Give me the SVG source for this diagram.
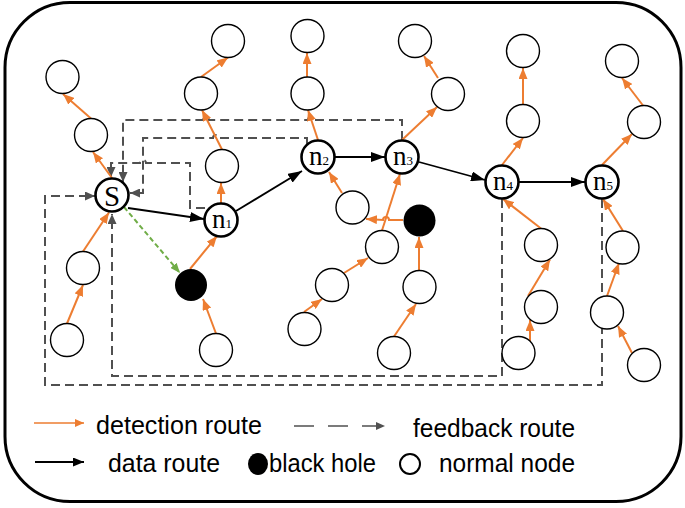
<svg xmlns="http://www.w3.org/2000/svg" width="685" height="508" viewBox="0 0 685 508">
<style>
.nd{fill:#fff;stroke:#000;stroke-width:1.4}
.nt{fill:#fff;stroke:#000;stroke-width:2.6}
.bh{fill:#000;stroke:none}
.or{stroke:#ED7D31;stroke-width:2;fill:none;marker-end:url(#ao)}
.da{stroke:#000;stroke-width:1.8;fill:none;marker-end:url(#ab)}
.fb{stroke:#505050;stroke-width:2;fill:none;stroke-dasharray:9 5;marker-end:url(#ag)}
.gr{stroke:#70AD47;stroke-width:2;fill:none;stroke-dasharray:5 3;marker-end:url(#agr)}
.lb{font-family:"Liberation Serif","Times New Roman",serif;fill:#000;text-anchor:middle}
.lg{font-family:"Liberation Sans",Arial,sans-serif;font-size:26px;fill:#000}
</style>
<defs>
<marker id="ao" markerUnits="userSpaceOnUse" markerWidth="11" markerHeight="9" refX="11" refY="4.5" orient="auto"><path d="M0,0 L11,4.5 L0,9 z" fill="#ED7D31"/></marker>
<marker id="ab" markerUnits="userSpaceOnUse" markerWidth="14" markerHeight="10" refX="14" refY="5" orient="auto"><path d="M0,0 L14,5 L0,10 z" fill="#000"/></marker>
<marker id="ag" markerUnits="userSpaceOnUse" markerWidth="10" markerHeight="9" refX="10" refY="4.5" orient="auto"><path d="M0,0 L10,4.5 L0,9 z" fill="#505050"/></marker>
<marker id="agr" markerUnits="userSpaceOnUse" markerWidth="10" markerHeight="8" refX="10" refY="4" orient="auto"><path d="M0,0 L10,4 L0,8 z" fill="#70AD47"/></marker>
<marker id="lo" markerUnits="userSpaceOnUse" markerWidth="9" markerHeight="8" refX="9" refY="4" orient="auto"><path d="M0,0 L9,4 L0,8 z" fill="#ED7D31"/></marker>
<marker id="lgm" markerUnits="userSpaceOnUse" markerWidth="9" markerHeight="8" refX="9" refY="4" orient="auto"><path d="M0,0 L9,4 L0,8 z" fill="#505050"/></marker>
<marker id="lb" markerUnits="userSpaceOnUse" markerWidth="11" markerHeight="9" refX="11" refY="4.5" orient="auto"><path d="M0,0 L11,4.5 L0,9 z" fill="#000"/></marker>
</defs>
<rect x="5" y="2.5" width="676" height="499" rx="65" ry="65" fill="#fff" stroke="#000" stroke-width="3"/>

<g id="connectors">
<path class="fb" d="M205,208 H190 V163 H146 a3,3 0 0 0 -6,0 H111 V177"/>
<path class="fb" d="M307,144 V138 H219 a3,3 0 0 0 -6,0 H143 V193 H130"/>
<path class="fb" d="M402,140 V120 H314 a3,3 0 0 0 -6,0 H209 a3,3 0 0 0 -6,0 H123 V182"/>
<path class="fb" d="M602,199 V385 H45 V196 H95"/>
<path class="fb" d="M502,199 V376 H112 V214"/>
<line class="or" x1="112" y1="178" x2="93" y2="152"/>
<line class="or" x1="91" y1="118.5" x2="63" y2="94"/>
<line class="or" x1="83" y1="251.5" x2="109" y2="212.5"/>
<line class="or" x1="67" y1="323.5" x2="83" y2="285"/>
<line class="or" x1="190" y1="269" x2="217" y2="236"/>
<line class="or" x1="216" y1="333.5" x2="203" y2="299"/>
<line class="or" x1="221" y1="203" x2="221" y2="183"/>
<line class="or" x1="222" y1="149.5" x2="202" y2="110"/>
<line class="or" x1="201" y1="77" x2="228" y2="57.5"/>
<line class="or" x1="318" y1="140" x2="308" y2="110"/>
<line class="or" x1="307" y1="77" x2="307" y2="53"/>
<line class="or" x1="342" y1="193" x2="329" y2="172"/>
<line class="or" x1="402" y1="140" x2="437" y2="107"/>
<line class="or" x1="438" y1="78" x2="424" y2="56"/>
<line class="or" x1="382" y1="230.5" x2="400" y2="174"/>
<path class="or" d="M403,220 H389 a3,3 0 0 0 -6,0 L366,219"/>
<line class="or" x1="344" y1="273" x2="368" y2="258"/>
<line class="or" x1="304" y1="312" x2="322" y2="299"/>
<line class="or" x1="419" y1="270" x2="419" y2="237"/>
<line class="or" x1="394" y1="336.5" x2="416" y2="304"/>
<line class="or" x1="502" y1="165" x2="523" y2="138"/>
<line class="or" x1="523" y1="104.5" x2="523" y2="68"/>
<line class="or" x1="602" y1="165" x2="632" y2="134"/>
<line class="or" x1="643" y1="105.5" x2="622" y2="78"/>
<line class="or" x1="541" y1="228.5" x2="503" y2="199"/>
<line class="or" x1="528" y1="296" x2="550" y2="259.5"/>
<line class="or" x1="530" y1="342" x2="530" y2="320"/>
<line class="or" x1="623" y1="231" x2="603" y2="199"/>
<line class="or" x1="607" y1="296" x2="619" y2="263"/>
<line class="or" x1="632" y1="353" x2="618" y2="326"/>
<line class="da" x1="128" y1="208" x2="204" y2="219"/>
<line class="da" x1="236" y1="211" x2="302" y2="171"/>
<line class="da" x1="335" y1="157" x2="385" y2="157"/>
<line class="da" x1="419" y1="162" x2="485" y2="180"/>
<line class="da" x1="519" y1="182" x2="585" y2="182"/>
<line class="gr" x1="124" y1="207" x2="180" y2="273"/>
</g>

<g id="node-S"><circle class="nt" cx="112" cy="195" r="16.5"/><text class="lb" x="112" y="206" font-size="29">S</text></g>
<g id="node-n1"><circle class="nt" cx="221" cy="220" r="16.5"/><text class="lb" x="222" y="228" font-size="27">n<tspan font-size="13">1</tspan></text></g>
<g id="node-n2"><circle class="nt" cx="318" cy="157" r="16.5"/><text class="lb" x="319" y="165" font-size="27">n<tspan font-size="13">2</tspan></text></g>
<g id="node-n3"><circle class="nt" cx="402" cy="157" r="16.5"/><text class="lb" x="403" y="165" font-size="27">n<tspan font-size="13">3</tspan></text></g>
<g id="node-n4"><circle class="nt" cx="502" cy="182" r="16.5"/><text class="lb" x="503" y="190" font-size="27">n<tspan font-size="13">4</tspan></text></g>
<g id="node-n5"><circle class="nt" cx="602" cy="182" r="16.5"/><text class="lb" x="603" y="190" font-size="27">n<tspan font-size="13">5</tspan></text></g>
<g id="blackhole-1"><circle class="bh" cx="191" cy="285" r="16"/></g>
<g id="blackhole-2"><circle class="bh" cx="419.5" cy="220.5" r="16"/></g>
<g id="node-a1"><circle class="nd" cx="62.5" cy="77" r="16.5" stroke-width="1.8"/></g>
<g id="node-a2"><circle class="nd" cx="91" cy="135" r="16.5" stroke-width="1.8"/></g>
<g id="node-a3"><circle class="nd" cx="83" cy="268" r="16.5"/></g>
<g id="node-a4"><circle class="nd" cx="67" cy="340" r="16.5" stroke-width="1.8"/></g>
<g id="node-b1"><circle class="nd" cx="228" cy="41" r="16.5"/></g>
<g id="node-b2"><circle class="nd" cx="201" cy="93.5" r="16.5"/></g>
<g id="node-b3"><circle class="nd" cx="222" cy="166" r="16.5"/></g>
<g id="node-b4"><circle class="nd" cx="216" cy="350" r="16.5"/></g>
<g id="node-c1"><circle class="nd" cx="307.5" cy="36" r="16.5"/></g>
<g id="node-c2"><circle class="nd" cx="307.5" cy="93.5" r="16.5"/></g>
<g id="node-c3"><circle class="nd" cx="352.5" cy="207.5" r="16.5"/></g>
<g id="node-d1"><circle class="nd" cx="415" cy="41" r="16.5"/></g>
<g id="node-d2"><circle class="nd" cx="448" cy="94" r="16.5"/></g>
<g id="node-d3"><circle class="nd" cx="382" cy="247" r="16.5"/></g>
<g id="node-d4"><circle class="nd" cx="332" cy="285" r="16.5"/></g>
<g id="node-d5"><circle class="nd" cx="304.5" cy="329" r="16.5"/></g>
<g id="node-d6"><circle class="nd" cx="419.5" cy="287" r="16.5"/></g>
<g id="node-d7"><circle class="nd" cx="394" cy="353" r="16.5"/></g>
<g id="node-e1"><circle class="nd" cx="523" cy="51" r="16.5"/></g>
<g id="node-e2"><circle class="nd" cx="523" cy="121" r="16.5" stroke-width="2"/></g>
<g id="node-e3"><circle class="nd" cx="541" cy="245" r="16.5"/></g>
<g id="node-e4"><circle class="nd" cx="541" cy="307" r="16.5"/></g>
<g id="node-e5"><circle class="nd" cx="518.5" cy="353" r="16.5"/></g>
<g id="node-f1"><circle class="nd" cx="622" cy="61" r="16.5"/></g>
<g id="node-f2"><circle class="nd" cx="644" cy="122" r="16.5"/></g>
<g id="node-f3"><circle class="nd" cx="622.5" cy="247.5" r="16.5" stroke-width="2"/></g>
<g id="node-f4"><circle class="nd" cx="607" cy="312.5" r="16.5"/></g>
<g id="node-f5"><circle class="nd" cx="644" cy="365" r="16.5"/></g>

<g id="legend">
<line x1="34" y1="423" x2="84" y2="423" stroke="#ED7D31" stroke-width="1.6" marker-end="url(#lo)"/>
<text class="lg" x="96" y="434" textLength="166" lengthAdjust="spacingAndGlyphs">detection route</text>
<line x1="294" y1="426" x2="385" y2="426" stroke="#505050" stroke-width="1.6" stroke-dasharray="20 14" marker-end="url(#lgm)"/>
<text class="lg" x="413" y="437" textLength="162" lengthAdjust="spacingAndGlyphs">feedback route</text>
<line x1="35" y1="462" x2="84" y2="462" stroke="#000" stroke-width="1.8" marker-end="url(#lb)"/>
<text class="lg" x="108" y="472" textLength="112" lengthAdjust="spacingAndGlyphs">data route</text>
<ellipse cx="258" cy="464" rx="10" ry="11" fill="#000"/>
<text class="lg" x="269" y="472" textLength="107" lengthAdjust="spacingAndGlyphs">black hole</text>
<circle cx="410" cy="464" r="10" fill="#fff" stroke="#000" stroke-width="2"/>
<text class="lg" x="439" y="472" textLength="136" lengthAdjust="spacingAndGlyphs">normal node</text>
</g>
</svg>
